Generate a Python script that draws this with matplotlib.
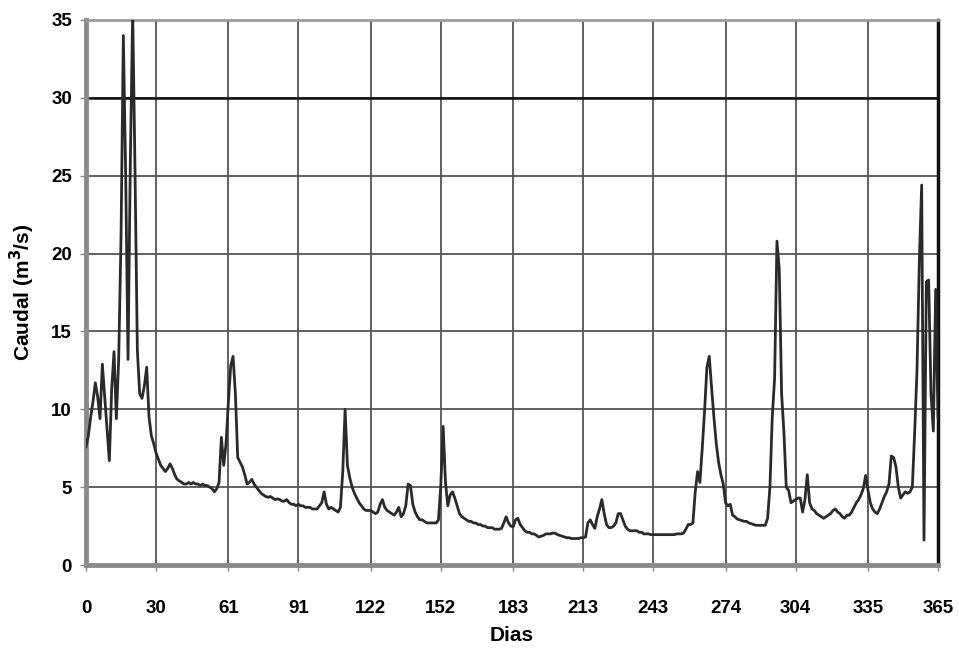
import matplotlib
matplotlib.use("Agg")
import matplotlib.pyplot as plt
import numpy as np

# Daily flow (m3/s), days 0..365
caudal = [
    # 0-30
    7.6, 8.3, 9.5, 10.5, 11.7, 10.8, 9.4, 12.9, 10.8, 8.7, 6.7, 11.3, 13.7, 9.4, 13.2, 21.0,
    34.0, 25.0, 13.2, 26.0, 35.5, 25.3, 13.8, 11.0, 10.7, 11.5, 12.7, 9.5, 8.3, 7.8, 7.2,
    # 31-60
    6.8, 6.4, 6.2, 6.0, 6.2, 6.5, 6.2, 5.8, 5.5, 5.4, 5.3, 5.2, 5.2, 5.3, 5.2, 5.3, 5.2, 5.2,
    5.1, 5.2, 5.1, 5.1, 5.0, 4.9, 4.7, 4.9, 5.3, 8.2, 6.4, 7.8,
    # 61-90
    10.5, 12.8, 13.4, 11.0, 6.9, 6.6, 6.3, 5.8, 5.2, 5.3, 5.5, 5.2, 5.0, 4.8, 4.6, 4.5, 4.4,
    4.35, 4.4, 4.3, 4.2, 4.25, 4.2, 4.1, 4.1, 4.2, 4.0, 3.9, 3.9, 3.8,
    # 91-121
    3.9, 3.8, 3.8, 3.7, 3.7, 3.7, 3.6, 3.6, 3.6, 3.8, 4.0, 4.7, 3.9, 3.6, 3.7, 3.6, 3.5, 3.4,
    3.7, 6.0, 10.0, 6.4, 5.6, 5.0, 4.6, 4.3, 4.0, 3.8, 3.6, 3.5, 3.5,
    # 122-151
    3.5, 3.4, 3.3, 3.4, 3.9, 4.2, 3.7, 3.5, 3.4, 3.3, 3.2, 3.4, 3.7, 3.1, 3.3, 3.8, 5.2, 5.1,
    3.9, 3.4, 3.1, 2.9, 2.9, 2.8, 2.7, 2.7, 2.7, 2.7, 2.7, 2.9,
    # 152-182
    5.1, 8.9, 5.3, 3.8, 4.5, 4.7, 4.3, 3.8, 3.3, 3.1, 3.0, 2.9, 2.8, 2.8, 2.7, 2.7, 2.6, 2.6,
    2.5, 2.5, 2.4, 2.4, 2.4, 2.3, 2.3, 2.3, 2.35, 2.7, 3.1, 2.7, 2.5,
    # 183-212
    2.45, 2.9, 3.0, 2.6, 2.4, 2.2, 2.1, 2.1, 2.0, 2.0, 1.9, 1.8, 1.85, 1.9, 2.0, 2.0, 2.0,
    2.05, 2.05, 1.95, 1.9, 1.85, 1.8, 1.75, 1.75, 1.7, 1.7, 1.7, 1.7, 1.75,
    # 213-242
    1.75, 1.8, 2.7, 2.9, 2.6, 2.35, 3.1, 3.6, 4.2, 3.3, 2.6, 2.4, 2.4, 2.5, 2.7, 3.3, 3.3,
    2.9, 2.5, 2.3, 2.2, 2.2, 2.2, 2.2, 2.1, 2.1, 2.0, 2.0, 2.0, 1.95,
    # 243-273
    1.95, 1.95, 1.95, 1.95, 1.95, 1.95, 1.95, 1.95, 1.95, 1.95, 2.0, 2.0, 2.0, 2.05, 2.3, 2.6,
    2.6, 2.7, 4.7, 6.0, 5.3, 7.5, 9.9, 12.7, 13.4, 11.4, 9.5, 7.8, 6.6, 5.8, 5.2,
    # 274-303
    4.0, 3.8, 3.9, 3.2, 3.1, 2.95, 2.9, 2.85, 2.8, 2.8, 2.7, 2.65, 2.6, 2.55, 2.55, 2.55,
    2.55, 2.55, 3.0, 5.0, 9.5, 12.0, 20.8, 19.0, 11.0, 8.5, 5.0, 4.8, 4.0, 4.1,
    # 304-334
    4.2, 4.3, 4.3, 3.4, 4.2, 5.8, 4.0, 3.6, 3.5, 3.3, 3.2, 3.1, 3.0, 3.1, 3.2, 3.3, 3.5, 3.6,
    3.4, 3.3, 3.1, 3.0, 3.2, 3.2, 3.4, 3.7, 4.0, 4.2, 4.5, 4.9, 5.75,
    # 335-365
    4.8, 4.0, 3.6, 3.4, 3.3, 3.6, 4.0, 4.4, 4.7, 5.2, 7.0, 6.9, 6.3, 5.0, 4.3, 4.5, 4.7, 4.6,
    4.7, 5.0, 8.5, 12.5, 19.5, 24.4, 1.6, 18.2, 18.3, 11.0, 8.6, 17.7, 9.5,
]
dias = list(range(len(caudal)))

xticks = [0, 30, 61, 91, 122, 152, 183, 213, 243, 274, 304, 335, 365]
yticks = [0, 5, 10, 15, 20, 25, 30, 35]

plt.rcParams['font.family'] = ['Liberation Sans', 'DejaVu Sans']

fig = plt.figure(figsize=(9.59, 6.55), dpi=100)
ax = fig.add_axes([86/959, 1-565/655, (938-86)/959, (565-20)/655])

ax.set_xlim(0, 365)
ax.set_ylim(0, 35)
ax.set_xticks(xticks)
ax.set_yticks(yticks)
ax.grid(True, color='#555555', linewidth=1.3)
ax.set_axisbelow(True)
ax.axhline(30, color='#111111', linewidth=1.8, zorder=1)

ax.plot(dias, caudal, color='#2a2a2a', linewidth=2.0, zorder=3, clip_on=True)

for s in ['left', 'bottom']:
    ax.spines[s].set_color('#8a8a8a')
    ax.spines[s].set_linewidth(3.5)
ax.spines['top'].set_color('#9a9a9a')
ax.spines['top'].set_linewidth(2.0)
ax.spines['right'].set_color('#111111')
ax.spines['right'].set_linewidth(2.5)

ax.tick_params(axis='x', length=4, width=1, color='#888888', pad=21, labelsize=13.5)
ax.tick_params(axis='y', length=4, width=1, color='#888888', pad=6, labelsize=13.5)
for lab in ax.get_xticklabels() + ax.get_yticklabels():
    lab.set_fontweight('bold')

ax.set_xlabel('Dias', fontsize=15, fontweight='bold', labelpad=7)
ax.set_ylabel('Caudal (m$\\mathbf{^3}$/s)', fontsize=15, fontweight='bold', labelpad=10)

fig.savefig('out.png', dpi=100)
